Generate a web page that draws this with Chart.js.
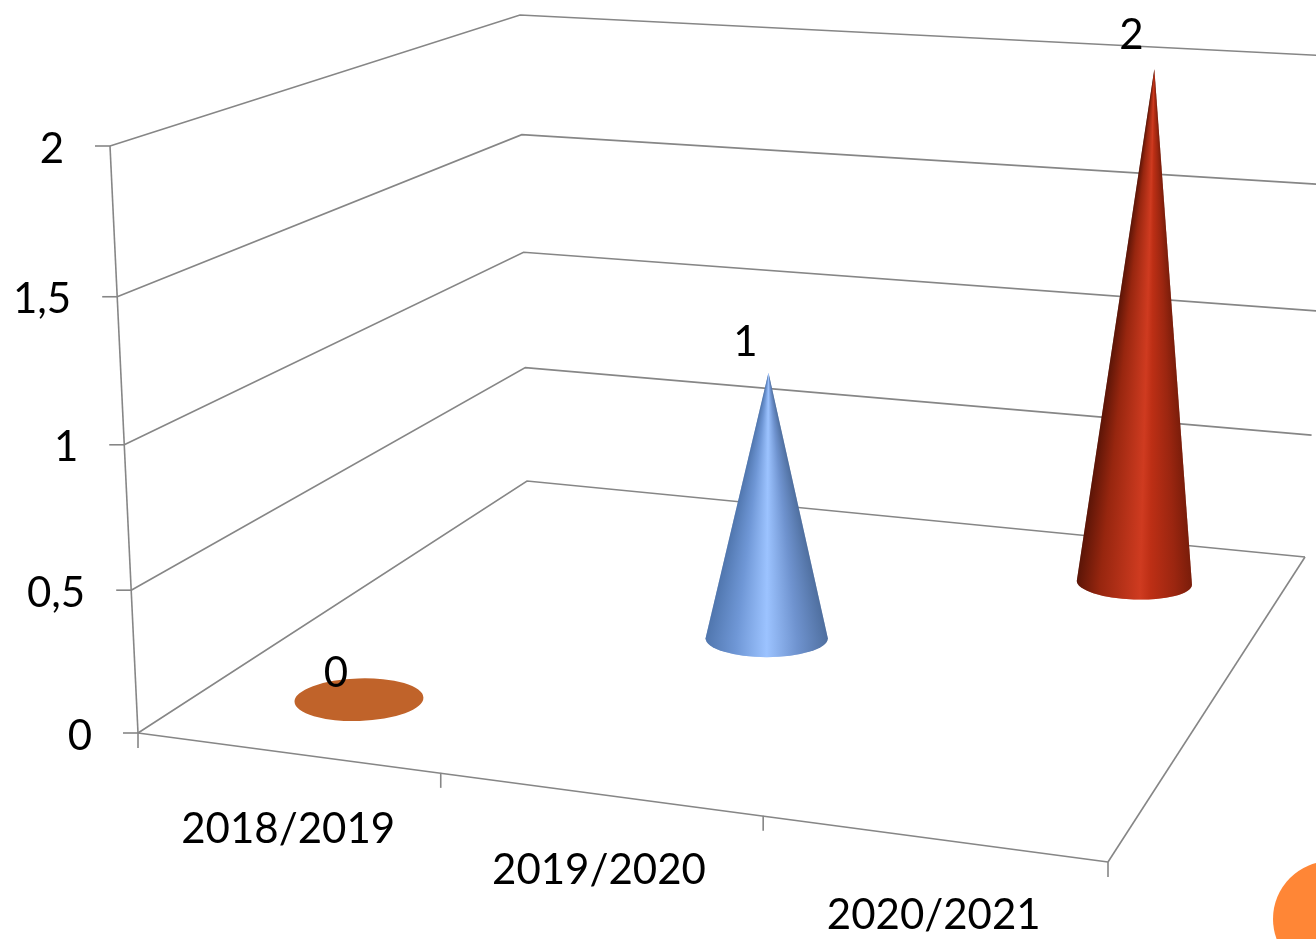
<!DOCTYPE html>
<html>
<head>
<meta charset="utf-8">
<script src="https://cdn.jsdelivr.net/npm/chart.js@4/dist/chart.umd.min.js"></script>
<style>
html,body{margin:0;padding:0;background:#fff;overflow:hidden}
#wrap{width:1316px;height:939px;position:relative}
canvas{filter:blur(0.5px)}
</style>
</head>
<body>
<div id="wrap"><canvas id="c" width="1316" height="939"></canvas></div>
<script>
const categories = ['2018/2019', '2019/2020', '2020/2021'];
const seriesValues = [0, 1, 2];
const valueTickLabels = ['0', '0,5', '1', '1,5', '2'];
const seriesName = 'Series 1';

/* ---- view of the 3D box (style, not data) ---- */
const FLOOR = [[138,733],[1108,862],[1305,557],[527,481]];   // front-left, front-right, back-right, back-left
const TOP   = [[110,146],[1140,219],[1332,56],[520,15]];
const PERSP = 0.0367;
const FONT = '42px Lato, Carlito, sans-serif';
const LINE = '#868686';
const SHADES = [
  [[0,'#c0632a'],[1,'#c0632a']],
  [[0,'#5076ae'],[0.25,'#6f97d6'],[0.5,'#9cc3ff'],[0.75,'#6f93cf'],[1,'#4f6f9f']],
  [[0,'#5c1507'],[0.2,'#97260f'],[0.55,'#cf3b20'],[0.64,'#bd2f15'],[0.85,'#9b2610'],[1,'#7a1d0a']]
];

function hom(q,u,v){
  const [a,b,c,d]=q;
  const sx=a[0]-b[0]+c[0]-d[0], sy=a[1]-b[1]+c[1]-d[1];
  const dx1=b[0]-c[0], dx2=d[0]-c[0], dy1=b[1]-c[1], dy2=d[1]-c[1];
  const den=dx1*dy2-dx2*dy1;
  const g=(sx*dy2-dx2*sy)/den, h=(dx1*sy-sx*dy1)/den;
  const A=b[0]-a[0]+g*b[0], B=d[0]-a[0]+h*d[0], C=a[0];
  const D=b[1]-a[1]+g*b[1], E=d[1]-a[1]+h*d[1], F=a[1];
  const w=g*u+h*v+1;
  return [(A*u+B*v+C)/w,(D*u+E*v+F)/w];
}
function project(u,t,v){
  const f=hom(FLOOR,u,v), c=hom(TOP,u,v);
  const s=t/(1+PERSP*(1-t));
  return [f[0]+(c[0]-f[0])*s, f[1]+(c[1]-f[1])*s];
}
function seg(ctx,a,b){ctx.beginPath();ctx.moveTo(a[0],a[1]);ctx.lineTo(b[0],b[1]);ctx.stroke();}
function uOf(chart,px){const ca=chart.chartArea;return (px-ca.left)/(ca.right-ca.left);}
function tOf(chart,py){const ca=chart.chartArea;return (ca.bottom-py)/(ca.bottom-ca.top);}

const box3d = {
  id:'box3d',
  beforeDatasetsDraw(chart){
    const ctx=chart.ctx, ys=chart.scales.y, xs=chart.scales.x;
    ctx.save();
    ctx.strokeStyle=LINE; ctx.lineWidth=1.6; ctx.lineCap='butt';
    ys.ticks.forEach(tk=>{
      const t=tOf(chart,ys.getPixelForValue(tk.value));
      const a=project(0,t,0), b=project(0,t,1), c=project(1,t,1);
      ctx.beginPath();ctx.moveTo(a[0],a[1]);ctx.lineTo(b[0],b[1]);ctx.lineTo(c[0],c[1]);ctx.stroke();
      seg(ctx,[a[0]-15,a[1]],a);
    });
    seg(ctx,project(0,0,0),project(0,1,0));
    seg(ctx,project(0,0,0),project(1,0,0));
    seg(ctx,project(1,0,0),project(1,0,1));
    const n=xs.ticks.length;
    for(let i=0;i<=n;i++){
      const p=project(i/n,0,0), dx=(i>0&&i<n)?3:0;
      seg(ctx,[p[0]+dx,p[1]],[p[0]+dx,p[1]+15]);
    }
    ctx.fillStyle='#000'; ctx.font=FONT; ctx.textBaseline='middle';
    ctx.textAlign='right';
    ys.ticks.forEach(tk=>{
      const t=tOf(chart,ys.getPixelForValue(tk.value));
      const a=project(0,t,0);
      ctx.fillText(tk.label,a[0]-46,a[1]+3);
    });
    ctx.textAlign='center';
    xs.ticks.forEach((tk,i)=>{
      const u=uOf(chart,xs.getPixelForTick(i));
      const p=project(u,0,0);
      ctx.fillText(tk.label,p[0]+3,p[1]+77);
    });
    ctx.restore();
  },
  beforeDatasetDraw(chart,args){
    const ctx=chart.ctx, meta=args.meta;
    meta.data.forEach((bar,i)=>{
      const u=uOf(chart,bar.x), t=tOf(chart,bar.y);
      const c=project(u,0,u);
      const e=0.02, pa=project(u+e,0,u), pb=project(u-e,0,u);
      const du=Math.hypot(pa[0]-pb[0],pa[1]-pb[1])/(2*e);
      const rx=du*(0.0755-0.01*u), ry=rx*(0.34-0.06*u), rot=(u-0.5)*0.1;
      const st=SHADES[i];
      const tip=project(u,t,u);
      ctx.save();
      if(t<=0){
        ctx.fillStyle=st[0][1];
        ctx.beginPath();ctx.ellipse(c[0],c[1],rx,ry,rot,0,Math.PI*2);ctx.fill();
      }else{
        ctx.beginPath();
        ctx.moveTo(tip[0],tip[1]);
        ctx.lineTo(c[0]-rx*Math.cos(rot),c[1]-rx*Math.sin(rot));
        ctx.ellipse(c[0],c[1],rx,ry,rot,Math.PI,0,true);
        ctx.closePath();
        ctx.clip();
        const y0=Math.floor(tip[1]), y1=Math.ceil(c[1]+ry+2);
        for(let y=y0;y<=y1;y++){
          const k=Math.min(1,Math.max(0.002,(y-tip[1])/(c[1]-tip[1])));
          const cx=tip[0]+(c[0]-tip[0])*k, w=rx*k;
          const g=ctx.createLinearGradient(cx-w,0,cx+w,0);
          st.forEach(s=>g.addColorStop(s[0],s[1]));
          ctx.fillStyle=g;
          ctx.fillRect(cx-w-3,y,2*w+6,1.5);
        }
      }
      ctx.restore();
    });
    return false;
  },
  afterDatasetsDraw(chart){
    const ctx=chart.ctx, meta=chart.getDatasetMeta(0), ds=chart.data.datasets[0];
    ctx.save();
    ctx.fillStyle='#000';ctx.font=FONT;ctx.textAlign='center';ctx.textBaseline='middle';
    meta.data.forEach((bar,i)=>{
      const u=uOf(chart,bar.x), t=tOf(chart,bar.y);
      const p=project(u,t,u);
      ctx.fillText(String(ds.data[i]),p[0]-23,p[1]-26-8*t);
    });
    ctx.restore();
  },
  afterDraw(chart){
    const ctx=chart.ctx;
    ctx.save();ctx.fillStyle='#ff8636';
    ctx.beginPath();ctx.arc(1331,919,58,0,Math.PI*2);ctx.fill();
    ctx.restore();
  }
};

new Chart(document.getElementById('c'),{
  type:'bar',
  data:{labels:categories,datasets:[{label:seriesName,data:seriesValues,backgroundColor:['#c0632a','#7aa2e0','#c0341a']}]},
  options:{
    responsive:false,animation:false,
    layout:{padding:{left:138,right:208,top:146,bottom:206}},
    plugins:{legend:{display:false},title:{display:false},tooltip:{enabled:false}},
    scales:{
      x:{type:'category',display:false},
      y:{type:'linear',display:false,min:0,max:2,ticks:{stepSize:0.5,callback:(v,i)=>valueTickLabels[i]}}
    }
  },
  plugins:[box3d]
});
</script>
</body>
</html>
